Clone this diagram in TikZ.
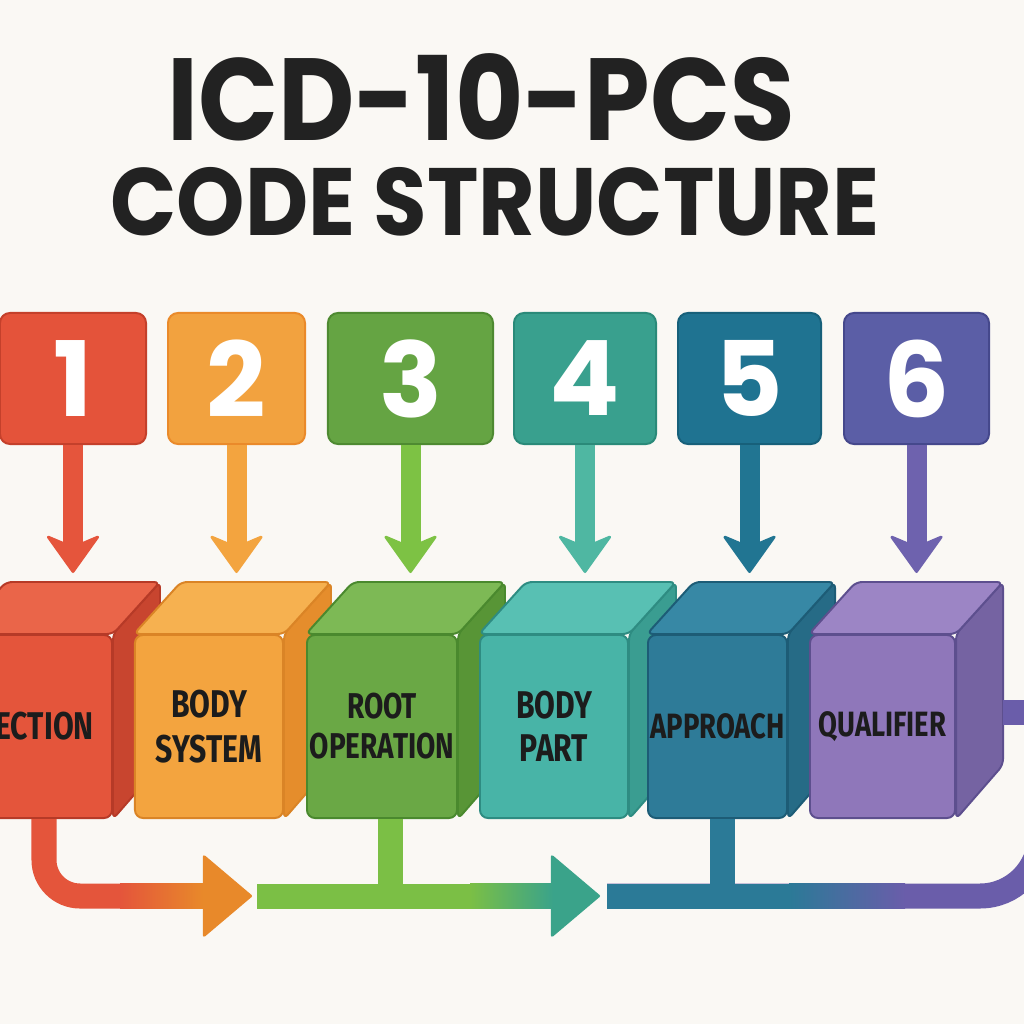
\documentclass[tikz,border=0pt]{standalone}
\usepackage{fontspec}
\usepackage{tikz}
\usetikzlibrary{arrows.meta,calc}

\newfontfamily\titlefont[FakeStretch=0.9]{Poppins}
\newfontfamily\subtitlefont[FakeStretch=0.91]{Poppins}
\newfontfamily\digitfont{Poppins}
\newfontfamily\labelfont[FakeStretch=0.78]{Fira Sans}

\definecolor{paper}{HTML}{FAF8F4}
\definecolor{ink}{HTML}{222222}
\definecolor{labelink}{HTML}{1C1C1C}
% number boxes
\definecolor{nred}{HTML}{E4533A}    \definecolor{nrededge}{HTML}{C4402B}
\definecolor{norange}{HTML}{F2A23F} \definecolor{norangeedge}{HTML}{EA8A2A}
\definecolor{ngreen}{HTML}{65A443}  \definecolor{ngreenedge}{HTML}{4E8A31}
\definecolor{nteal}{HTML}{39A08E}   \definecolor{ntealedge}{HTML}{2A8A79}
\definecolor{nblue}{HTML}{1F7391}   \definecolor{nblueedge}{HTML}{17607A}
\definecolor{npurple}{HTML}{5B5EA6} \definecolor{npurpleedge}{HTML}{45488C}
% down arrows
\definecolor{ared}{HTML}{E5553C}
\definecolor{aorange}{HTML}{F3A43F}
\definecolor{agreen}{HTML}{7DC244}
\definecolor{ateal}{HTML}{4FB7A2}
\definecolor{ablue}{HTML}{217592}
\definecolor{apurple}{HTML}{6E62AE}
% cubes: front / top / side / edge
\definecolor{rfront}{HTML}{E4553B} \definecolor{rtop}{HTML}{EA6549} \definecolor{rside}{HTML}{C8452F} \definecolor{redge}{HTML}{B63A27}
\definecolor{ofront}{HTML}{F3A43F} \definecolor{otop}{HTML}{F6B150} \definecolor{oside}{HTML}{E58D2C} \definecolor{oedge}{HTML}{DA8426}
\definecolor{gfront}{HTML}{6AA845} \definecolor{gtop}{HTML}{7DB955} \definecolor{gside}{HTML}{589536} \definecolor{gedge}{HTML}{4A892E}
\definecolor{tfront}{HTML}{48B4A7} \definecolor{ttop}{HTML}{58C0B3} \definecolor{tside}{HTML}{3A9D91} \definecolor{tedge}{HTML}{2E8C82}
\definecolor{bfront}{HTML}{2E7B98} \definecolor{btop}{HTML}{3788A5} \definecolor{bside}{HTML}{266B86} \definecolor{bedge}{HTML}{1D5C76}
\definecolor{pfront}{HTML}{8F77BA} \definecolor{ptop}{HTML}{9C85C5} \definecolor{pside}{HTML}{7563A2} \definecolor{pedge}{HTML}{5D4F8E}
% bottom flow
\definecolor{fred}{HTML}{E4553B}
\definecolor{forange}{HTML}{E8892A}
\definecolor{fgreen}{HTML}{7BBF45}
\definecolor{fteal}{HTML}{3AA38A}
\definecolor{fblue}{HTML}{2B7A97}
\definecolor{fpurple}{HTML}{6A5DAA}

\tikzset{
  numbox/.style={rectangle, rounded corners=0.25cm, line width=1.4pt, inner sep=0pt,
    minimum height=3.275cm, text=white, font=\digitfont\bfseries\fontsize{74}{74}\selectfont},
  front/.style={rectangle, rounded corners=0.2cm, line width=1.4pt, inner sep=0pt,
    minimum height=4.575cm, align=center, text=labelink,
    font=\labelfont\bfseries\fontsize{27.5}{32}\selectfont},
  face/.style={rounded corners=0.15cm, line width=1.4pt},
  downarr/.style={line width=0.5cm,
    -{Stealth[length=1cm, width=1.425cm, inset=0.3cm, line width=2pt, round]}},
  bar/.style={line width=0.625cm},
  flowtip/.style={-{Triangle[length=1.25cm, width=2.1cm, line width=2pt, round, color=#1]}},
}

\begin{document}
\begin{tikzpicture}[x=0.025cm, y=-0.025cm]
  \fill[paper] (0,0) rectangle (1024,1024);
  \useasboundingbox (0,0) rectangle (1024,1024);
  \clip (0,0) rectangle (1024,1024);

  % title
  \node[anchor=base, text=ink, font=\titlefont\bfseries\fontsize{83}{83}\selectfont] (title) at (481,141) {ICD-10-PCS};
  \node[anchor=base, text=ink, font=\subtitlefont\bfseries\fontsize{68}{68}\selectfont] (subtitle) at (495,236) {CODE STRUCTURE};

  % numbered boxes
  \node[numbox, fill=nred, draw=nrededge, minimum width=3.65cm]           (n1) at (73,378.5)    {1};
  \node[numbox, fill=norange, draw=norangeedge, minimum width=3.425cm]    (n2) at (236.5,378.5) {2};
  \node[numbox, fill=ngreen, draw=ngreenedge, minimum width=4.125cm]      (n3) at (410.5,378.5) {3};
  \node[numbox, fill=nteal, draw=ntealedge, minimum width=3.55cm]         (n4) at (585,378.5)   {4};
  \node[numbox, fill=nblue, draw=nblueedge, minimum width=3.575cm]        (n5) at (749.5,378.5) {5};
  \node[numbox, fill=npurple, draw=npurpleedge, minimum width=3.625cm]    (n6) at (916.5,378.5) {6};

  \coordinate (tips) at (0,573);
  \draw[downarr, ared]    (n1.south) -- (n1.south |- tips);
  \draw[downarr, aorange] (n2.south) -- (n2.south |- tips);
  \draw[downarr, agreen]  (n3.south) -- (n3.south |- tips);
  \draw[downarr, ateal]   (n4.south) -- (n4.south |- tips);
  \draw[downarr, ablue]   (n5.south) -- (n5.south |- tips);
  \draw[downarr, apurple] (n6.south) -- (n6.south |- tips);

  % cubes, left to right so each one covers the side of the last
  \node[front, fill=rfront, draw=redge, minimum width=3.8cm] (c1) at (36,726.5) {SECTION};
  \draw[face, fill=rside, draw=redge] (c1.north east) -- ++(47,-52) -- ++(0,183) -- (c1.south east) -- cycle;
  \draw[face, fill=rtop, draw=redge]  (c1.north west) -- ++(47,-52) -- ($(c1.north east)+(47,-52)$) -- (c1.north east) -- cycle;

  \node[front, fill=ofront, draw=oedge, minimum width=3.7cm] (c2) at (209,726.5) {BODY\\SYSTEM};
  \draw[face, fill=oside, draw=oedge] (c2.north east) -- ++(47,-52) -- ++(0,183) -- (c2.south east) -- cycle;
  \draw[face, fill=otop, draw=oedge]  (c2.north west) -- ++(47,-52) -- ($(c2.north east)+(47,-52)$) -- (c2.north east) -- cycle;

  \node[front, fill=gfront, draw=gedge, minimum width=3.75cm,
        font=\labelfont\bfseries\fontsize{25.5}{28.5}\selectfont] (c3) at (382,726.5) {ROOT\\OPERATION};
  \draw[face, fill=gside, draw=gedge] (c3.north east) -- ++(47,-52) -- ++(0,183) -- (c3.south east) -- cycle;
  \draw[face, fill=gtop, draw=gedge]  (c3.north west) -- ++(47,-52) -- ($(c3.north east)+(47,-52)$) -- (c3.north east) -- cycle;

  \node[front, fill=tfront, draw=tedge, minimum width=3.7cm,
        font=\labelfont\bfseries\fontsize{27.5}{30.5}\selectfont] (c4) at (554,726.5) {BODY\\PART};
  \draw[face, fill=tside, draw=tedge] (c4.north east) -- ++(47,-52) -- ++(0,183) -- (c4.south east) -- cycle;
  \draw[face, fill=ttop, draw=tedge]  (c4.north west) -- ++(47,-52) -- ($(c4.north east)+(47,-52)$) -- (c4.north east) -- cycle;

  \node[front, fill=bfront, draw=bedge, minimum width=3.475cm,
        font=\labelfont\bfseries\fontsize{25}{30}\selectfont] (c5) at (717.5,726.5) {APPROACH};
  \draw[face, fill=bside, draw=bedge] (c5.north east) -- ++(47,-52) -- ++(0,183) -- (c5.south east) -- cycle;
  \draw[face, fill=btop, draw=bedge]  (c5.north west) -- ++(47,-52) -- ($(c5.north east)+(47,-52)$) -- (c5.north east) -- cycle;

  \node[front, fill=pfront, draw=pedge, minimum width=3.625cm,
        font=\labelfont\bfseries\fontsize{25}{30}\selectfont] (c6) at (882.5,726.5) {QUALIFIER};
  \draw[face, fill=pside, draw=pedge] (c6.north east) -- ++(47,-52) -- ++(0,183) -- (c6.south east) -- cycle;
  \draw[face, fill=ptop, draw=pedge]  (c6.north west) -- ++(47,-52) -- ($(c6.north east)+(47,-52)$) -- (c6.north east) -- cycle;

  % flow underneath
  \coordinate (rdown) at ($(c1.south)+(8,0)$);
  \coordinate (rtip)  at (252,896);
  \draw[bar, fred, rounded corners=0.9cm, flowtip=forange] (rdown) |- (rtip);
  \shade[left color=fred, right color=forange] (120,883.5) rectangle (203,908.5);

  \coordinate (gdown) at ($(c3.south)+(8,0)$);
  \coordinate (gleft) at (257,896);
  \coordinate (gtip)  at (600,896);
  \draw[bar, fgreen, flowtip=fteal] (gleft) -- (gtip);
  \draw[bar, fgreen] (gdown) -- (gdown |- gleft);
  \shade[left color=fgreen, right color=fteal] (470,883.5) rectangle (553,908.5);

  \coordinate (bdown) at ($(c5.south)+(4.5,0)$);
  \coordinate (bleft) at (607,896);
  \coordinate (pout)  at ($(c6.east)+(47,-14.5)$);
  \coordinate (pturn) at (1040,712);
  \draw[bar, fpurple] (pout) -- ($(pturn)+(30,0)$);
  \draw[bar, fpurple, rounded corners=1.5cm] (pturn) -- (pturn |- bleft) -- (bleft);
  \draw[bar, fblue] (bleft) -- (790,896);
  \shade[left color=fblue, right color=fpurple] (789,883.5) rectangle (905,908.5);
  \draw[bar, fblue] (bdown) -- (bdown |- bleft);
\end{tikzpicture}
\end{document}
